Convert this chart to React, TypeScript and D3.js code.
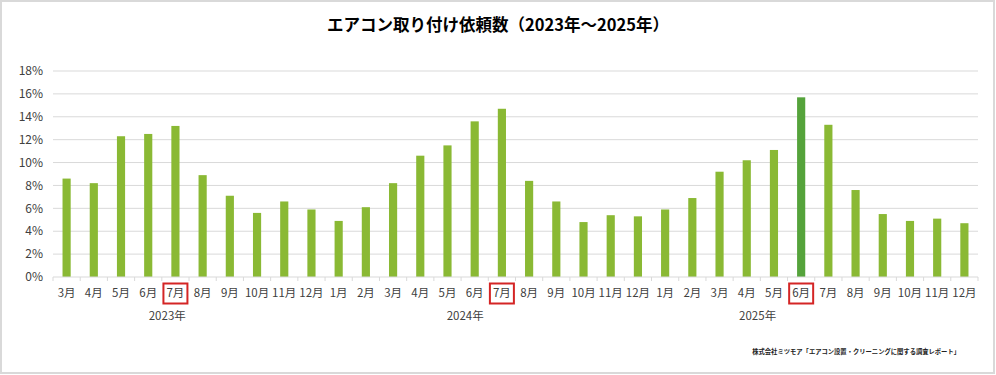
import React, { useEffect, useRef } from "react";
import * as d3 from "d3";

const title = "エアコン取り付け依頼数（2023年～2025年）";
const source = "株式会社ミツモア「エアコン設置・クリーニングに関する調査レポート」";

const years = ["2023年", "2024年", "2025年"];
const months2023 = ["3月", "4月", "5月", "6月", "7月", "8月", "9月", "10月", "11月", "12月"];
const months2024 = ["1月", "2月", "3月", "4月", "5月", "6月", "7月", "8月", "9月", "10月", "11月", "12月"];
const months2025 = ["1月", "2月", "3月", "4月", "5月", "6月", "7月", "8月", "9月", "10月", "11月", "12月"];

const values2023 = [8.6, 8.2, 12.3, 12.5, 13.2, 8.9, 7.1, 5.6, 6.6, 5.9];
const values2024 = [4.9, 6.1, 8.2, 10.6, 11.5, 13.6, 14.7, 8.4, 6.6, 4.8, 5.4, 5.3];
const values2025 = [5.9, 6.9, 9.2, 10.2, 11.1, 15.7, 13.3, 7.6, 5.5, 4.9, 5.1, 4.7];

// months with a red box under them, per year
const boxed = ["7月", "7月", "6月"];
// the darker bar
const highlight = { year: "2025年", month: "6月" };
// where the year label sits, in category units from the left edge
const yearLabelPos = [4.2, 15.15, 25.9];

const yTicks = [0, 2, 4, 6, 8, 10, 12, 14, 16, 18];

const width = 996;
const height = 375;

const App = () => {
  const svgRef = useRef(null);

  useEffect(() => {
    const svg = d3.select(svgRef.current);
    svg.selectAll("*").remove();

    const rows: { key: string; year: string; month: string; value: number }[] = [];
    [months2023, months2024, months2025].forEach((ms, yi) => {
      const vals = [values2023, values2024, values2025][yi];
      ms.forEach((m, i) => {
        rows.push({ key: years[yi] + m, year: years[yi], month: m, value: vals[i] });
      });
    });

    const margin = { left: 53, right: 18, top: 71, bottom: 98 };
    const x = d3
      .scaleBand()
      .domain(rows.map((d) => d.key))
      .range([margin.left, width - margin.right])
      .paddingInner(0.7)
      .paddingOuter(0.35);
    const y = d3
      .scaleLinear()
      .domain([0, 18])
      .range([height - margin.bottom, margin.top]);
    const idx = d3
      .scaleLinear()
      .domain([0, rows.length])
      .range([margin.left, width - margin.right]);

    const font = "'Noto Sans CJK JP', 'Noto Sans', sans-serif";

    svg
      .append("rect")
      .attr("x", 1)
      .attr("y", 1)
      .attr("width", width - 3)
      .attr("height", height - 3)
      .attr("fill", "#fff")
      .attr("stroke", "#d9d9d9")
      .attr("stroke-width", 2);

    svg
      .append("text")
      .attr("x", width / 2)
      .attr("y", 31)
      .attr("text-anchor", "middle")
      .style("font-family", font)
      .style("font-size", "16.5px")
      .style("font-weight", "bold")
      .attr("fill", "#000")
      .text(title);

    // gridlines
    svg
      .append("g")
      .selectAll("line")
      .data(yTicks.filter((t) => t > 0))
      .join("line")
      .attr("x1", margin.left)
      .attr("x2", width - margin.right)
      .attr("y1", (d) => y(d))
      .attr("y2", (d) => y(d))
      .attr("stroke", "#d9d9d9")
      .attr("stroke-width", 1);

    svg
      .append("g")
      .selectAll("text")
      .data(yTicks)
      .join("text")
      .attr("x", 43)
      .attr("y", (d) => y(d))
      .attr("dy", "0.35em")
      .attr("text-anchor", "end")
      .style("font-family", font)
      .style("font-size", "12px")
      .attr("fill", "#404040")
      .text((d) => d + "%");

    // bars
    svg
      .append("g")
      .selectAll("rect")
      .data(rows)
      .join("rect")
      .attr("x", (d) => x(d.key)!)
      .attr("width", x.bandwidth())
      .attr("y", (d) => y(d.value))
      .attr("height", (d) => y(0) - y(d.value))
      .attr("fill", (d) =>
        d.year === highlight.year && d.month === highlight.month ? "#55a33b" : "#8ab934"
      );

    // x axis line and ticks
    const axis = svg.append("g");
    axis
      .append("line")
      .attr("x1", margin.left)
      .attr("x2", width - margin.right)
      .attr("y1", y(0))
      .attr("y2", y(0))
      .attr("stroke", "#d9d9d9");
    axis
      .selectAll("line.tick")
      .data(d3.range(rows.length + 1))
      .join("line")
      .attr("class", "tick")
      .attr("x1", (d) => idx(d))
      .attr("x2", (d) => idx(d))
      .attr("y1", y(0))
      .attr("y2", y(0) + 4)
      .attr("stroke", "#d9d9d9");

    const step = idx(1) - idx(0);
    axis
      .selectAll("text.month")
      .data(rows)
      .join("text")
      .attr("class", "month")
      .attr("x", (d, i) => idx(i) + step / 2)
      .attr("y", y(0) + 20)
      .attr("text-anchor", "middle")
      .style("font-family", font)
      .style("font-size", "11.5px")
      .attr("fill", "#404040")
      .text((d) => d.month);

    // red boxes
    const boxedRows = rows.filter((d) => boxed[years.indexOf(d.year)] === d.month);
    axis
      .selectAll("rect.box")
      .data(boxedRows)
      .join("rect")
      .attr("class", "box")
      .attr("x", (d) => idx(rows.indexOf(d)) + step / 2 - 12)
      .attr("y", y(0) + 6.5)
      .attr("width", 24)
      .attr("height", 20)
      .attr("fill", "none")
      .attr("stroke", "#d42525")
      .attr("stroke-width", 2);

    axis
      .selectAll("text.year")
      .data(years)
      .join("text")
      .attr("class", "year")
      .attr("x", (d, i) => idx(yearLabelPos[i]))
      .attr("y", y(0) + 43)
      .attr("text-anchor", "middle")
      .style("font-family", font)
      .style("font-size", "11.5px")
      .attr("fill", "#404040")
      .text((d) => d);

    svg
      .append("text")
      .attr("x", 960)
      .attr("y", 354)
      .attr("text-anchor", "end")
      .style("font-family", font)
      .style("font-size", "6.3px")
      .style("font-weight", "bold")
      .attr("fill", "#222")
      .text(source);
  }, []);

  return (
    <svg
      ref={svgRef}
      width={width}
      height={height}
      style={{ position: "absolute", left: 0, top: 0, display: "block" }}
    ></svg>
  );
};

export default App;
